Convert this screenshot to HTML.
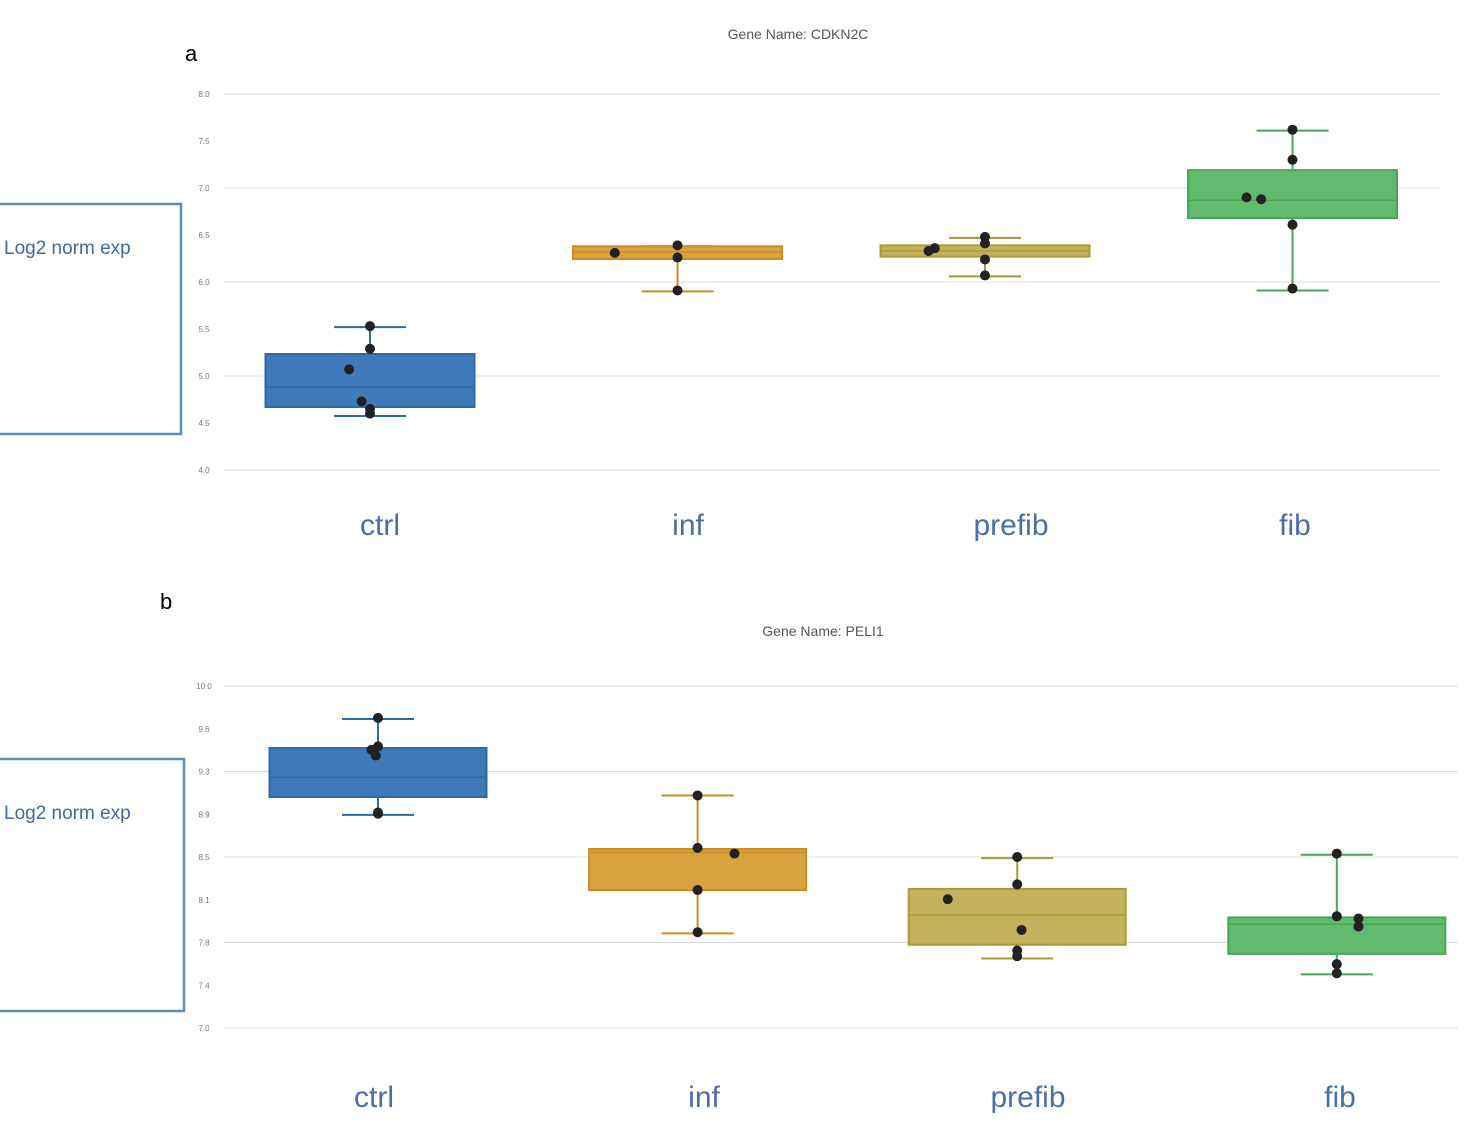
<!DOCTYPE html>
<html><head><meta charset="utf-8"><style>
html,body{margin:0;padding:0;background:#fff;}
svg{display:block;font-family:"Liberation Sans",sans-serif;}
</style></head><body>
<svg id="chart" width="1473" height="1125" xmlns="http://www.w3.org/2000/svg">
<text x="185" y="61" font-size="22" fill="#000">a</text>
<text x="160" y="609" font-size="22" fill="#000">b</text>
<rect x="-2" y="204" width="183" height="230" fill="none" stroke="#5b8fc0" stroke-width="2.5"/>
<text x="4" y="254" font-size="19" fill="#3f6aa0">Log2 norm exp</text>
<rect x="-2" y="759" width="186" height="252" fill="none" stroke="#5b8fc0" stroke-width="2.5"/>
<text x="4" y="819" font-size="19" fill="#3f6aa0">Log2 norm exp</text>
<text x="798" y="39" font-size="14" fill="#555" text-anchor="middle">Gene Name: CDKN2C</text>
<text x="823" y="636" font-size="14" fill="#555" text-anchor="middle">Gene Name: PELI1</text>
<g id="pa"></g><g id="pb"></g>
</svg>
<script>
const categories = ["ctrl","inf","prefib","fib"];
const colors = ["#3f7bbb","#dba340","#c2b35c","#62ba6f"];
const strokes = ["#2e6aa5","#c98d22","#a99a3a","#47a658"];
// panel a
const ticksA = ["4.0","4.5","5.0","5.5","6.0","6.5","7.0","7.5","8.0"];
const boxA = [[4.575,4.67,4.88,5.234,5.52],[5.9,6.245,6.32,6.38,6.38],[6.06,6.27,6.33,6.39,6.47],[5.91,6.68,6.87,7.19,7.61]];
const ptsA = [[5.53,5.29,5.07,4.73,4.65,4.6],[6.31,6.39,6.26,5.91],[6.33,6.36,6.48,6.41,6.24,6.07],[7.62,7.3,6.9,6.88,6.61,5.93]];
const jitA = [[0,0,-0.1,-0.04,0,0],[-0.3,0,0,0],[-0.27,-0.24,0,0,0,0],[0,0,-0.22,-0.15,0,0]];
// panel b
const ticksB = ["7.0","7.4","7.8","8.1","8.5","8.9","9.3","9.6","10.0"];
const boxB = [[8.87,9.026,9.2,9.456,9.71],[7.83,8.21,8.54,8.57,9.04],[7.61,7.73,7.99,8.22,8.49],[7.47,7.65,7.91,7.97,8.52]];
const ptsB = [[9.72,9.47,9.44,9.39,8.89,8.88],[9.04,8.58,8.53,8.21,7.84],[8.5,8.26,8.13,7.86,7.68,7.63],[8.53,7.98,7.96,7.89,7.56,7.48]];
const jitB = [[0,0,-0.03,-0.01,0,0],[0,0,0.17,0,0],[0,0,-0.32,0.02,0,0],[0,0,0.1,0.1,0,0]];
const labelsA=[380,688,1011,1295], labelsB=[374,704,1028,1340];
const NS="http://www.w3.org/2000/svg";
function mk(p,t,a){const e=document.createElementNS(NS,t);for(const k in a)e.setAttribute(k,a[k]);p.appendChild(e);return e;}
function panel(g,cfg){
  const y=v=>cfg.y0-(v-cfg.vmin)*cfg.k;
  const x=i=>cfg.x0+i*cfg.step;
  const tv=cfg.ticks.map((t,i)=>cfg.vmin+i*(cfg.vmax-cfg.vmin)/(cfg.ticks.length-1));
  cfg.ticks.forEach((t,i)=>{
    if(i%2===0){const l=mk(g,"line",{x1:cfg.gx0,x2:cfg.gx1,y1:y(tv[i]),y2:y(tv[i]),stroke:"#dcdcdc","stroke-width":1});
    
    }
    const tx=mk(g,"text",{x:cfg.tx,y:y(tv[i])+3,"font-size":8,fill:"#777","text-anchor":"middle"});tx.textContent=t;
    
    
  });
  cfg.box.forEach((b,i)=>{
    const cx=x(i),hw=cfg.bw/2;
    const w1=mk(g,"line",{x1:cx,x2:cx,y1:y(b[0]),y2:y(b[4]),stroke:strokes[i],"stroke-width":2});
    
    
    [b[0],b[4]].forEach(v=>{const c=mk(g,"line",{x1:cx-36,x2:cx+36,y1:y(v),y2:y(v),stroke:strokes[i],"stroke-width":2});
      
      });
    const r=mk(g,"rect",{x:cx-hw,y:y(b[3]),width:cfg.bw,height:y(b[1])-y(b[3]),fill:colors[i],stroke:strokes[i],"stroke-width":2});
    
    
    const m=mk(g,"line",{x1:cx-hw,x2:cx+hw,y1:y(b[2]),y2:y(b[2]),stroke:strokes[i],"stroke-width":1.5});
    
    
    cfg.pts[i].forEach((v,j)=>{const c=mk(g,"circle",{cx:cx+cfg.jit[i][j]*cfg.bw,cy:y(v),r:5,fill:"#222"});
      
      });
    const lb=mk(g,"text",{x:cfg.lx[i],y:cfg.ly,"font-size":30,fill:"#4b6fa5","text-anchor":"middle"});lb.textContent=categories[i];
    
    
  });
}
panel(document.getElementById("pa"),{y0:470,vmin:4,vmax:8,k:94,x0:370,step:307.5,bw:209,gx0:224,gx1:1440,tx:204,ticks:ticksA,box:boxA,pts:ptsA,jit:jitA,lx:labelsA,ly:535});
panel(document.getElementById("pb"),{y0:1028,vmin:7,vmax:10,k:114,x0:378,step:319.6,bw:217,gx0:224,gx1:1458,tx:204,ticks:ticksB,box:boxB,pts:ptsB,jit:jitB,lx:labelsB,ly:1107});
</script>
</body></html>
